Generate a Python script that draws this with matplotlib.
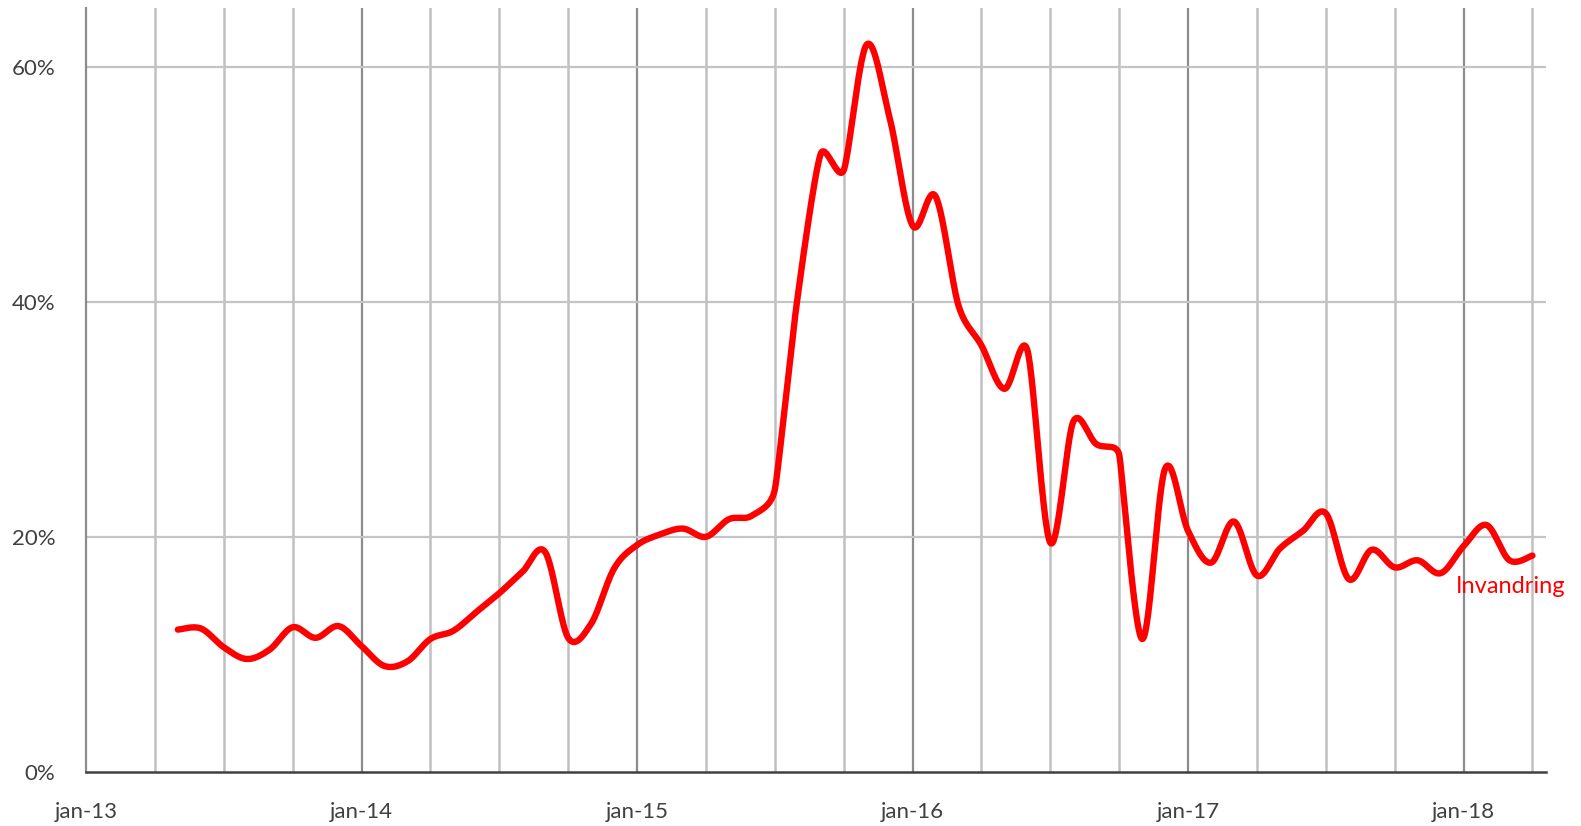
import numpy as np
import matplotlib
matplotlib.use("Agg")
import matplotlib.pyplot as plt

# ---- data (monthly, share in %) ----
start_year, start_month = 2013, 5          # first observation: May 2013
values = [12.1, 12.2, 10.6, 9.6, 10.4, 12.3, 11.4, 12.4,            # 2013 May-Dec
          10.7, 9.0, 9.4, 11.3, 12.0, 13.6, 15.2, 17.0, 18.7, 11.4, 12.6, 17.3,   # 2014
          19.3, 20.2, 20.7, 20.0, 21.5, 21.8, 24.0, 40.5, 52.6, 51.2, 61.9, 55.7, # 2015
          46.5, 49.0, 39.7, 36.3, 32.6, 35.9, 19.5, 29.8, 27.9, 27.0, 11.3, 25.8, # 2016
          20.5, 17.8, 21.3, 16.7, 19.0, 20.5, 22.0, 16.4, 18.9, 17.4, 18.0, 16.9, # 2017
          19.2, 21.0, 18.0, 18.4]                                              # 2018 Jan-Apr
series_name = "Invandring"
year_labels = ["jan-13", "jan-14", "jan-15", "jan-16", "jan-17", "jan-18"]
y_ticks = [0, 20, 40, 60]

# months since Jan 2013
x = np.arange(len(values)) + (start_year - 2013) * 12 + (start_month - 1)
y = np.array(values, dtype=float)

fig = plt.figure(figsize=(15.81, 8.26), dpi=100)
ax = fig.add_axes([0.0544, 0.0657, 0.9236, 0.9243])
font = "Lato"
txt_color = "#404040"

ax.set_xlim(0, 63.6)
ax.set_ylim(0, 65)


# Excel-like smoothed line: Bezier, control points limited by segment lengths (screen space)
def smooth(xs, ys, n=30):
    P = ax.transData.transform(np.column_stack([xs, ys]))
    m = len(P)
    Pp = np.vstack([P[0], P, P[-1]])
    cin = np.zeros_like(P)
    cout = np.zeros_like(P)
    for i in range(m):
        a, p, b = Pp[i], Pp[i + 1], Pp[i + 2]
        d01 = np.hypot(*(p - a)); d12 = np.hypot(*(b - p)); d02 = np.hypot(*(b - a))
        f = 1.0 / 6.0
        if d02 > 0:
            f = min(f, d01 / (2 * d02) if d01 > 0 else f, d12 / (2 * d02) if d12 > 0 else f)
        cout[i] = p + f * (b - a)
        cin[i] = p - f * (b - a)
    t = np.linspace(0, 1, n)[:, None]
    pts = []
    for i in range(m - 1):
        p1, p2, c1, c2 = P[i], P[i + 1], cout[i], cin[i + 1]
        bz = (1 - t) ** 3 * p1 + 3 * (1 - t) ** 2 * t * c1 + 3 * (1 - t) * t ** 2 * c2 + t ** 3 * p2
        pts.append(bz if i == 0 else bz[1:])
    pts = np.vstack(pts)
    d = ax.transData.inverted().transform(pts)
    return d[:, 0], d[:, 1]


sx, sy = smooth(x, y)

# vertical grid lines (quarterly, January darker)
for q in range(3, 64, 3):
    if q % 12 == 0:
        ax.axvline(q, color="#8c8c8c", lw=1.6, zorder=1)
    else:
        ax.axvline(q, color="#c0c0c0", lw=1.8, zorder=1)
for v in y_ticks[1:]:
    ax.axhline(v, color="#c4c4c4", lw=1.6, zorder=1)

ax.plot(sx, sy, color="#ff0000", lw=4.6, solid_capstyle="round",
        solid_joinstyle="round", zorder=3)

ax.annotate(series_name, xy=(x[-1], y[-1]), xytext=(-22, -31),
            textcoords="offset pixels", ha="center", va="center",
            color="#ff0000", fontsize=17, family=font)

for s in ["top", "right"]:
    ax.spines[s].set_visible(False)
ax.spines["left"].set_color("#8c8c8c")
ax.spines["left"].set_linewidth(1.6)
ax.spines["bottom"].set_color("#404040")
ax.spines["bottom"].set_linewidth(1.8)

ax.set_xticks(np.arange(0, 61, 12))
ax.set_xticklabels(year_labels)
ax.set_yticks(y_ticks)
ax.set_yticklabels([f"{v}%" for v in y_ticks])
ax.tick_params(axis="both", length=0, labelsize=16, colors=txt_color)
ax.tick_params(axis="x", pad=22)
ax.tick_params(axis="y", pad=22)
for lab in ax.get_xticklabels() + ax.get_yticklabels():
    lab.set_family(font)

fig.savefig("out.png", dpi=100)
